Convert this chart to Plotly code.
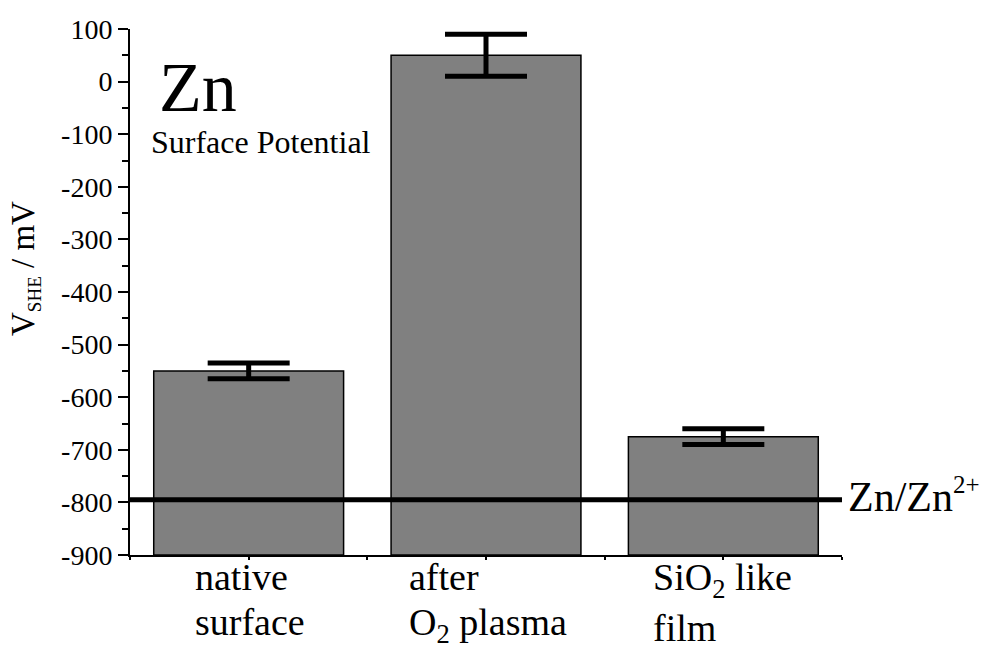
import plotly.graph_objects as go

categories = ["native<br>surface", "after<br>O<sub>2</sub> plasma", "SiO<sub>2</sub> like<br>film"]
values = [-550, 50, -675]
errors = [15, 40, 15]
label_offsets_px = [-56, -79, -72]
second_line_extra_px = [0, 0, -6]
reference_potential = -795
reference_label = 'Zn/Zn<sup><span style="font-size:25px">2+</span></sup>'
y_ticks = [-900, -800, -700, -600, -500, -400, -300, -200, -100, 0, 100]
y_tick_labels = ["-900", "-800", "-700", "-600", "-500", "-400", "-300", "-200", "-100", "0", "100"]
baseline = -900

FONT = "Liberation Serif"
xpos = list(range(len(categories)))

fig = go.Figure()
fig.add_trace(go.Bar(
    x=xpos,
    y=[v - baseline for v in values],
    base=baseline,
    width=0.8,
    marker=dict(color="#808080", line=dict(color="black", width=1.5)),
    error_y=dict(type="data", array=errors, visible=True, color="black", thickness=5, width=41),
    showlegend=False,
))

fig.add_shape(type="line", xref="paper", x0=0, x1=1, yref="y",
              y0=reference_potential, y1=reference_potential,
              line=dict(color="black", width=5), layer="above")

annotations = []
for xp, cat, off, extra in zip(xpos, categories, label_offsets_px, second_line_extra_px):
    line1, line2 = cat.split("<br>")
    annotations.append(dict(x=xp, xref="x", y=0, yref="paper", text=line1,
                            xanchor="left", yanchor="top", align="left",
                            xshift=off, yshift=1, showarrow=False,
                            font=dict(family=FONT, size=38, color="black")))
    annotations.append(dict(x=xp, xref="x", y=0, yref="paper", text=line2,
                            xanchor="left", yanchor="top", align="left",
                            xshift=off, yshift=-44 + extra, showarrow=False,
                            font=dict(family=FONT, size=38, color="black")))
annotations.append(dict(x=1, xref="paper", y=reference_potential, yref="y",
                        text=reference_label, xanchor="left", yanchor="middle",
                        xshift=4, yshift=4, showarrow=False,
                        font=dict(family=FONT, size=42, color="black")))
annotations.append(dict(x=0, xref="paper", y=1, yref="paper", text="Zn",
                        xanchor="left", yanchor="top", xshift=27, yshift=-18,
                        showarrow=False, font=dict(family=FONT, size=70, color="black")))
annotations.append(dict(x=0, xref="paper", y=1, yref="paper", text="Surface Potential",
                        xanchor="left", yanchor="top", xshift=19, yshift=-93,
                        showarrow=False, font=dict(family=FONT, size=32, color="black")))
annotations.append(dict(x=0, xref="paper", y=0.5, yref="paper",
                        text='V<sub><span style="font-size:19px">SHE</span></sub> / mV', textangle=-90,
                        xanchor="center", yanchor="middle", xshift=-105, yshift=23,
                        showarrow=False, font=dict(family=FONT, size=33, color="black")))

fig.update_layout(
    width=982, height=654,
    margin=dict(l=130, r=140, t=29, b=99),
    plot_bgcolor="white", paper_bgcolor="white",
    font=dict(family=FONT, color="black"),
    annotations=annotations,
    bargap=0.2,
)
fig.update_xaxes(
    range=[-0.5, 2.5], tickvals=[-0.5, 0, 0.5, 1, 1.5, 2, 2.5], ticktext=[""] * 7,
    ticks="outside", ticklen=3, tickwidth=1.5, tickcolor="black",
    showline=True, linecolor="black", linewidth=2, showgrid=False, zeroline=False,
)
fig.update_yaxes(
    range=[-900, 100], tickvals=y_ticks, ticktext=y_tick_labels,
    ticks="outside", ticklen=10, tickwidth=2,
    tickcolor="black", showline=True, linecolor="black", linewidth=2,
    showgrid=False, zeroline=False,
    tickfont=dict(family=FONT, size=28, color="black"),
    minor=dict(dtick=50, tick0=-900, ticks="outside", ticklen=6, tickwidth=2, tickcolor="black", showgrid=False),
)

fig.write_html("out.html")
